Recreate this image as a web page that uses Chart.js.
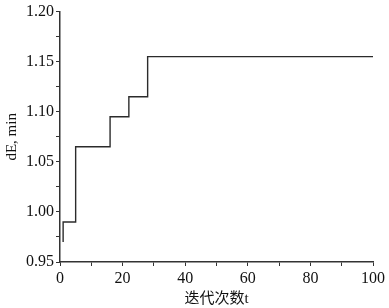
<!DOCTYPE html>
<html>
<head>
<meta charset="utf-8">
<script src="https://cdn.jsdelivr.net/npm/chart.js@4/dist/chart.umd.min.js"></script>
<style>
  body { margin: 0; background: #fff; }
</style>
</head>
<body>
<canvas id="chart" width="389" height="308"></canvas>
<script>
// Step curve
const iterX = [1, 1, 5, 16, 22, 28, 100];
const dEmin = [0.97, 0.99, 1.065, 1.095, 1.115, 1.155, 1.155];

const xLabels = [0, 20, 40, 60, 80, 100];
const yLabels = [0.95, 1.00, 1.05, 1.10, 1.15, 1.20];

const points = iterX.map((x, i) => ({ x: x, y: dEmin[i] }));

const serif = "'Liberation Serif', 'Noto Sans CJK SC', serif";
const axisColor = '#333';

const ctx = document.getElementById('chart').getContext('2d');
new Chart(ctx, {
    type: 'scatter',
    data: {
        datasets: [{
            data: points,
            showLine: true,
            stepped: true,
            borderColor: '#2b2b2b',
            borderWidth: 1.4,
            pointRadius: 0,
            fill: false
        }]
    },
    options: {
        responsive: false,
        animation: false,
        layout: { padding: { top: 9, right: 16, left: 0, bottom: 0 } },
        plugins: { legend: { display: false }, tooltip: { enabled: false } },
        scales: {
            x: {
                type: 'linear',
                min: 0,
                max: 100,
                afterFit: (scale) => { scale.height = 46; },
                border: { display: true, color: axisColor, width: 1.5 },
                grid: { drawOnChartArea: false, drawTicks: true, tickLength: 4, color: axisColor },
                ticks: {
                    stepSize: 10,
                    autoSkip: false,
                    maxRotation: 0,
                    padding: 3,
                    color: '#111',
                    font: { family: serif, size: 16 },
                    callback: (v) => xLabels.includes(v) ? String(v) : ''
                },
                title: {
                    display: true,
                    text: '迭代次数t',
                    color: '#111',
                    padding: { top: 0, bottom: 0 },
                    font: { family: serif, size: 15 }
                }
            },
            y: {
                min: 0.95,
                max: 1.20,
                afterFit: (scale) => { scale.width = 60; },
                border: { display: true, color: axisColor, width: 1.5 },
                grid: { drawOnChartArea: false, drawTicks: true, tickLength: 4, color: axisColor },
                ticks: {
                    stepSize: 0.025,
                    autoSkip: false,
                    padding: 2,
                    color: '#111',
                    font: { family: serif, size: 16 },
                    callback: (v) => {
                        const hit = yLabels.find(l => Math.abs(l - v) < 1e-6);
                        return hit !== undefined ? hit.toFixed(2) : '';
                    }
                },
                title: {
                    display: true,
                    text: 'dE, min',
                    color: '#111',
                    padding: { top: 3, bottom: 0 },
                    font: { family: serif, size: 15 }
                }
            }
        }
    }
});
</script>
</body>
</html>
